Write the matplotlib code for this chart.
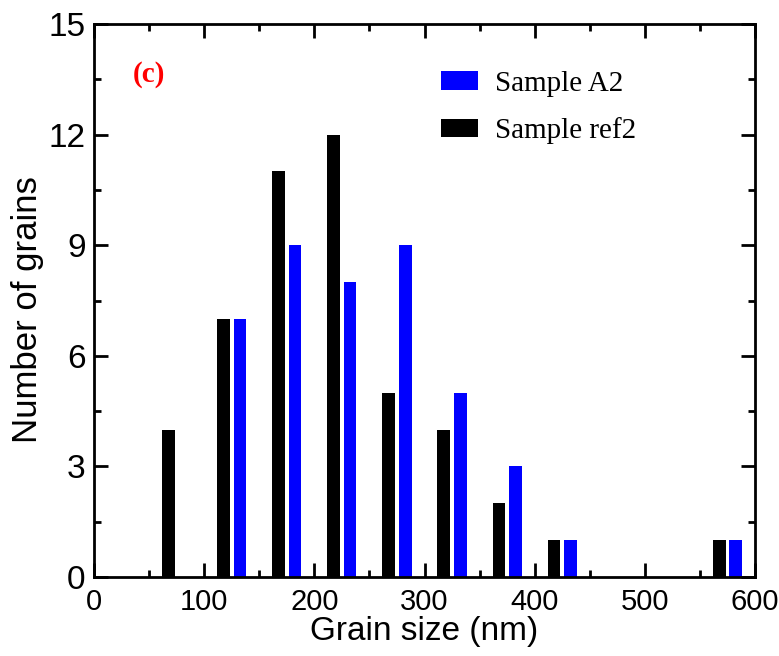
import numpy as np
from matplotlib import pyplot as plt
from matplotlib.ticker import MultipleLocator

# bin centres (nm) and counts
ref_x = [75, 125, 175, 225, 275, 325, 375, 425, 575]
ref_n = [4, 7, 11, 12, 5, 4, 2, 1, 1]
a2_x = [125, 175, 225, 275, 325, 375, 425, 575]
a2_n = [7, 9, 8, 9, 5, 3, 1, 1]

offset = 7.5
width = 11.5

fig = plt.figure(figsize=(7.79, 6.56), dpi=100)
ax = fig.add_axes([0.1207, 0.1204, 0.8485, 0.843])

ax.bar(np.array(a2_x) + offset, a2_n, width=width, color="#0000ff", label="Sample A2")
ax.bar(np.array(ref_x) - offset, ref_n, width=width, color="black", label="Sample ref2")

ax.set_xlim(0, 600)
ax.set_ylim(0, 15)
ax.xaxis.set_major_locator(MultipleLocator(100))
ax.xaxis.set_minor_locator(MultipleLocator(50))
ax.yaxis.set_major_locator(MultipleLocator(3))
ax.yaxis.set_minor_locator(MultipleLocator(1.5))
ax.tick_params(which="both", direction="in", top=True, right=True, width=2)
ax.tick_params(which="major", length=10)
ax.tick_params(which="minor", length=5)
ax.tick_params(axis="x", labelsize=21, pad=8)
ax.tick_params(axis="y", labelsize=24, pad=6)
for lab in ax.get_xticklabels() + ax.get_yticklabels():
    lab.set_family("Liberation Sans")
for s in ax.spines.values():
    s.set_linewidth(2)

ax.set_xlabel("Grain size (nm)", fontsize=24, family="Liberation Sans", labelpad=0)
ax.set_ylabel("Number of grains", fontsize=25, family="Liberation Sans", va="center")
ax.yaxis.set_label_coords(-0.101, 0.483)

ax.text(0.059, 0.895, "(c)", transform=ax.transAxes, color="red", fontsize=21,
        fontweight="bold", family="Liberation Serif", va="baseline")

leg = ax.legend(loc="upper left", bbox_to_anchor=(441 / 779, 1 - 71 / 656),
                bbox_transform=fig.transFigure, frameon=False,
                prop={"family": "Liberation Serif", "size": 21},
                handlelength=1.27, handleheight=0.6, handletextpad=0.58,
                labelspacing=0.7, borderpad=0, borderaxespad=0)

plt.savefig("out.png", dpi=100)
